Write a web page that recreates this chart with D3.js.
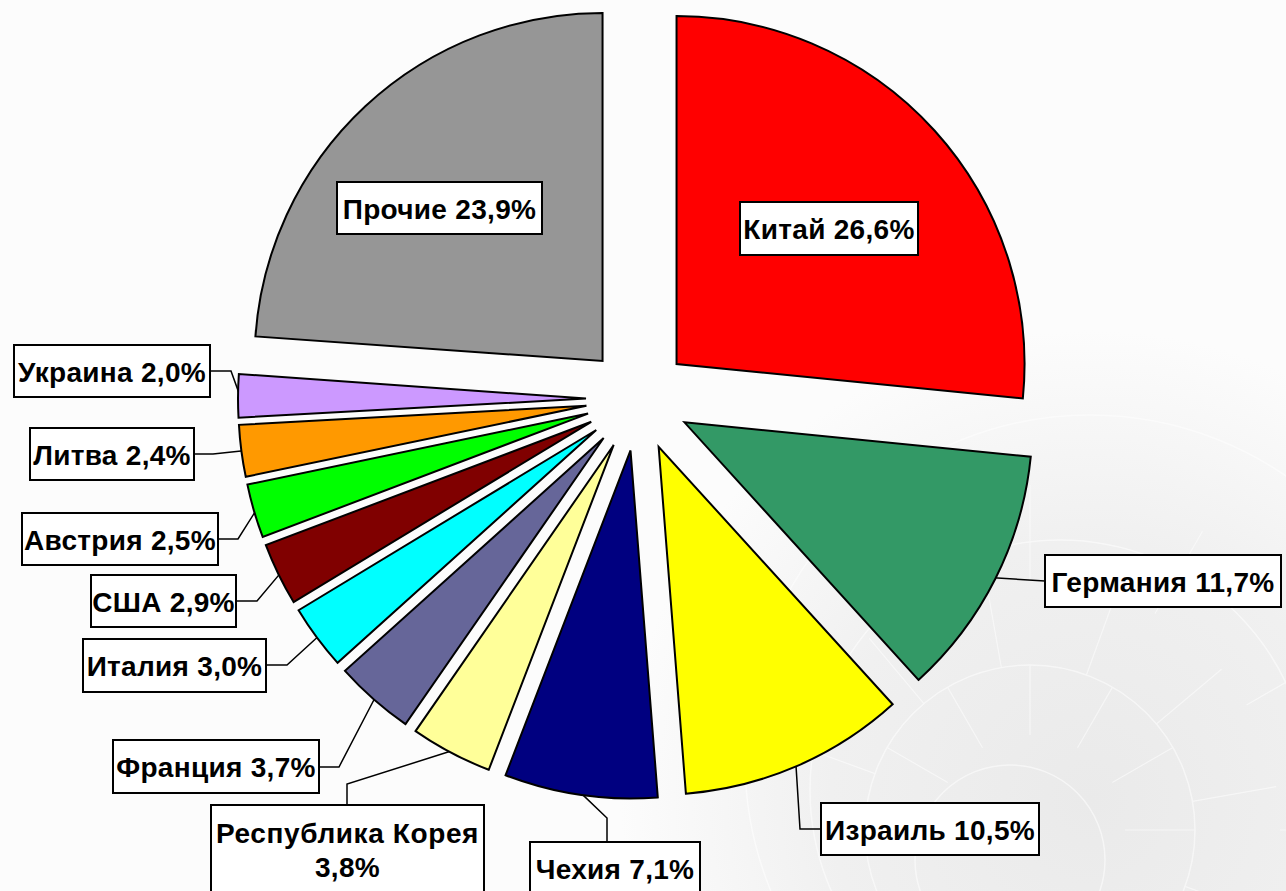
<!DOCTYPE html>
<html><head><meta charset="utf-8">
<script src="https://cdn.jsdelivr.net/npm/d3@7"></script>
<style>html,body{margin:0;padding:0;background:#fcfcfc;overflow:hidden}</style>
</head><body>
<svg id="chart" width="1286" height="891"></svg>
<script>
// ---- data ----
const categories = ["Китай","Германия","Израиль","Чехия","Республика Корея","Франция","Италия","США","Австрия","Литва","Украина","Прочие"];
const shares = [26.6, 11.7, 10.5, 7.1, 3.8, 3.7, 3.0, 2.9, 2.5, 2.4, 2.0, 23.9];
const valueLabels = ["26,6%","11,7%","10,5%","7,1%","3,8%","3,7%","3,0%","2,9%","2,5%","2,4%","2,0%","23,9%"];
const colors = ["#FF0000","#339966","#FFFF00","#000080","#FFFF99","#666699","#00FFFF","#800000","#00FF00","#FF9900","#CC99FF","#969696"];

// ---- layout (label boxes & leader elbows) ----
const labelBoxes = [
  [740,202,178,53],[1045,555,236,52],[821,803,218,52],[530,842,170,60],
  [211,805,273,100],[113,740,206,53],[83,639,183,53],[91,575,145,52],
  [22,513,196,52],[30,428,164,52],[14,345,196,52],[337,182,205,52]
];
const leaderElbows = [
  null, [[1045,581]], [[821,829],[800,829]], [[607,842],[607,818]],
  [[347,805],[347,784]], [[319,767],[339,767]], [[266,665],[287,665]], [[236,601],[257,601]],
  [[218,539],[238,539]], [[194,454],[213,454]], [[210,371],[231,371]], null
];

const svg = d3.select("#chart");
const W = 1286, H = 891;
const cx = 638, cy = 399, R = 348, explode = 52;

// background with faint shell
const defs = svg.append("defs");
const rg = defs.append("radialGradient").attr("id","bgShell")
  .attr("gradientUnits","userSpaceOnUse").attr("cx",1090).attr("cy",800).attr("r",470);
rg.append("stop").attr("offset","0%").attr("stop-color","#eaeaea");
rg.append("stop").attr("offset","55%").attr("stop-color","#f0f0f0");
rg.append("stop").attr("offset","100%").attr("stop-color","#fcfcfc");
svg.append("rect").attr("width",W).attr("height",H).attr("fill","#fcfcfc");
svg.append("rect").attr("width",W).attr("height",H).attr("fill","url(#bgShell)");
const shell = svg.append("g").attr("fill","none").attr("stroke","#ffffff").attr("stroke-width",1.5).attr("opacity",0.55);
[[1010,860,95],[1030,830,165],[1060,790,250],[1090,760,345]].forEach(([x,y,r])=>{
  shell.append("circle").attr("cx",x).attr("cy",y).attr("r",r);
});
[[-150,95,165],[-120,95,165],[-90,95,165],[-60,95,165],[-30,95,165],[0,95,165],
 [-160,165,250],[-130,165,250],[-100,165,250],[-70,165,250],[-40,165,250],[-10,165,250],[20,165,250],
 [-150,250,345],[-120,250,345],[-90,250,345],[-60,250,345],[-30,250,345],[0,250,345]].forEach(([a,r1,r2])=>{
  const t = a*Math.PI/180;
  shell.append("line").attr("x1",1030+r1*Math.cos(t)).attr("y1",830+r1*Math.sin(t))
    .attr("x2",1030+r2*Math.cos(t)).attr("y2",830+r2*Math.sin(t)).attr("stroke-width",1.2);
});

// pie
const pie = d3.pie().sort(null).value(d=>d)(shares);
const arc = d3.arc().innerRadius(0).outerRadius(R);
const dirOf = d => { const m=(d.startAngle+d.endAngle)/2; return [Math.sin(m), -Math.cos(m)]; };

// leaders (drawn under slices)
const lg = svg.append("g").attr("fill","none").attr("stroke","#000").attr("stroke-width",1.5);
pie.forEach((d,i)=>{
  if(!leaderElbows[i]) return;
  const [dx,dy] = dirOf(d);
  const start = [cx + dx*(explode+R-2), cy + dy*(explode+R-2)];
  const pts = leaderElbows[i].concat([start]);
  lg.append("path").attr("d", d3.line()(pts));
});

// slices
const sg = svg.append("g");
sg.selectAll("path").data(pie).join("path")
  .attr("transform", d=>{ const [dx,dy]=dirOf(d); return `translate(${cx+dx*explode},${cy+dy*explode})`; })
  .attr("d", arc)
  .attr("fill", (d,i)=>colors[i])
  .attr("stroke","#000").attr("stroke-width",2).attr("stroke-linejoin","miter");

// labels
const lbl = svg.append("g");
categories.forEach((c,i)=>{
  const [x,y,w,h] = labelBoxes[i];
  lbl.append("rect").attr("x",x).attr("y",y).attr("width",w).attr("height",h)
    .attr("fill","#fff").attr("stroke","#000").attr("stroke-width",2);
  const t = lbl.append("text").attr("font-family","'Liberation Sans', Arial, sans-serif")
    .attr("font-weight","bold").attr("font-size",28).attr("fill","#000")
    .attr("letter-spacing",0.3).attr("text-anchor","middle");
  if (i === 4) {
    t.append("tspan").attr("x",x+w/2).attr("y",y+38).attr("letter-spacing",0.6).text(c);
    t.append("tspan").attr("x",x+w/2).attr("y",y+72).text(valueLabels[i]);
  } else {
    t.attr("x",x+w/2).attr("y",y+37).text(c + " " + valueLabels[i]);
  }
});
</script>
</body></html>
